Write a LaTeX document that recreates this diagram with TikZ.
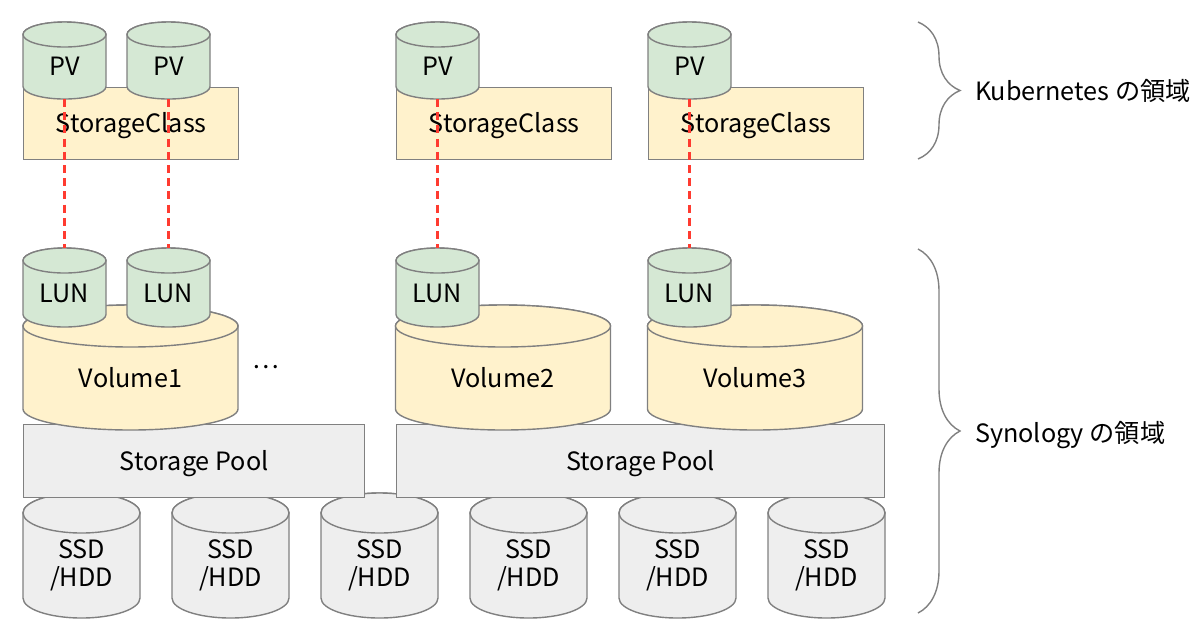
\documentclass[tikz,border=0pt]{standalone}
\usepackage{fontspec}
\setmainfont{Noto Sans CJK JP}
\usetikzlibrary{positioning, decorations.pathreplacing}
\definecolor{kgreen}{HTML}{D5E8D4}
\definecolor{kyellow}{HTML}{FFF2CC}
\definecolor{kgray}{HTML}{EEEEEE}
\definecolor{kline}{HTML}{808080}
\definecolor{kred}{HTML}{FF3B30}
\tikzset{px/.style={x=0.5pt, y=0.5pt}}
\tikzset{every node/.append style={font=\fontsize{12.6}{14}\selectfont}}
\tikzset{oneline/.style={text height=9.2pt, text depth=0.2pt}}
\tikzset{dfill/.style={draw=kline, line width=0.7pt, fill=#1}}
\tikzset{dbox/.style={dfill=#1, anchor=north west, inner sep=0pt, oneline}}
\tikzset{link/.style={draw=kred, line width=1.1pt, dash pattern=on 4pt off 2.6pt}}
\tikzset{bracket/.style={draw=kline, line width=0.7pt, decorate, decoration={brace, amplitude=21pt}}}
\newcommand\drum[8][]{
		% #2 name, #3 centre x, #4 top y, #5 half width, #6 height, #7 lid radius
		\path[#1] ({#3-#5},{-#4-#7}) -- ({#3-#5},{-#4-#6+#7})
			arc[start angle=180, end angle=360, x radius=#5, y radius=#7]
			-- ({#3+#5},{-#4-#7}) arc[start angle=0, end angle=180, x radius=#5, y radius=#7] -- cycle;
		\path[#1] ({#3},{-#4-#7}) ellipse[x radius=#5, y radius=#7];
		\coordinate (#2-t) at ({#3},{-#4});
		\coordinate (#2-b) at ({#3},{-#4-#6});
		\node[align=center] (#2) at ({#3},{-#4-#6/2-#7/2}) {#8};
		}

\begin{document}
\begin{tikzpicture}[px]
			\useasboundingbox (0,0) rectangle (1200,-629);
			% disks and pools
			\foreach \i in {0,...,5}
				{\drum[dfill=kgray]{SSD\i}{81.5+149*\i}{493}{58.5}{125}{20}{SSD\\/HDD}}
			\node[dbox=kgray, minimum width=170.5pt, minimum height=36.5pt] (Pool1) at (23,-424) {Storage Pool};
			\node[dbox=kgray, minimum width=244pt, minimum height=36.5pt] (Pool2) at (396,-424) {Storage Pool};
			% volumes
			\drum[dfill=kyellow]{Vol1}{130.5}{305}{107.5}{125}{21}{Volume1}
			\drum[dfill=kyellow]{Vol2}{503}{305}{107.5}{125}{21}{Volume2}
			\drum[dfill=kyellow]{Vol3}{755}{305}{107.5}{125}{21}{Volume3}
			\node (more) at (266,-367) {…};
			\drum[dfill=kgreen]{LUN1}{64.5}{248}{41.5}{79}{12.5}{LUN}
			\drum[dfill=kgreen]{LUN2}{168.5}{248}{41.5}{79}{12.5}{LUN}
			\drum[dfill=kgreen]{LUN3}{437.5}{248}{41.5}{79}{12.5}{LUN}
			\drum[dfill=kgreen]{LUN4}{689.5}{248}{41.5}{79}{12.5}{LUN}
			% kubernetes side
			\node[dbox=kyellow, minimum width=107.5pt, minimum height=36pt] (SC1) at (23,-87) {StorageClass};
			\node[dbox=kyellow, minimum width=107.5pt, minimum height=36pt] (SC2) at (396,-87) {StorageClass};
			\node[dbox=kyellow, minimum width=107.5pt, minimum height=36pt] (SC3) at (648,-87) {StorageClass};
			\drum[dfill=kgreen]{PV1}{64.5}{22}{41.5}{77}{12.5}{PV}
			\drum[dfill=kgreen]{PV2}{168.5}{22}{41.5}{77}{12.5}{PV}
			\drum[dfill=kgreen]{PV3}{437.5}{22}{41.5}{77}{12.5}{PV}
			\drum[dfill=kgreen]{PV4}{689.5}{22}{41.5}{77}{12.5}{PV}
			\foreach \i in {1,...,4}
				\draw[link] (PV\i-b) -- (LUN\i-t);
			% braces
			\coordinate (k8s-top) at (918,-22);
			\coordinate (k8s-bot) at (918,-159);
			\coordinate (syn-top) at (918,-249);
			\coordinate (syn-bot) at (918,-613);
			\draw[bracket] (k8s-top) -- (k8s-bot);
			\draw[bracket] (syn-top) -- (syn-bot);
			\node[anchor=west, oneline] (k8s) at (968,-91) {Kubernetes の領域};
			\node[anchor=west, oneline] (syn) at (968,-433) {Synology の領域};
		\end{tikzpicture}
\end{document}
